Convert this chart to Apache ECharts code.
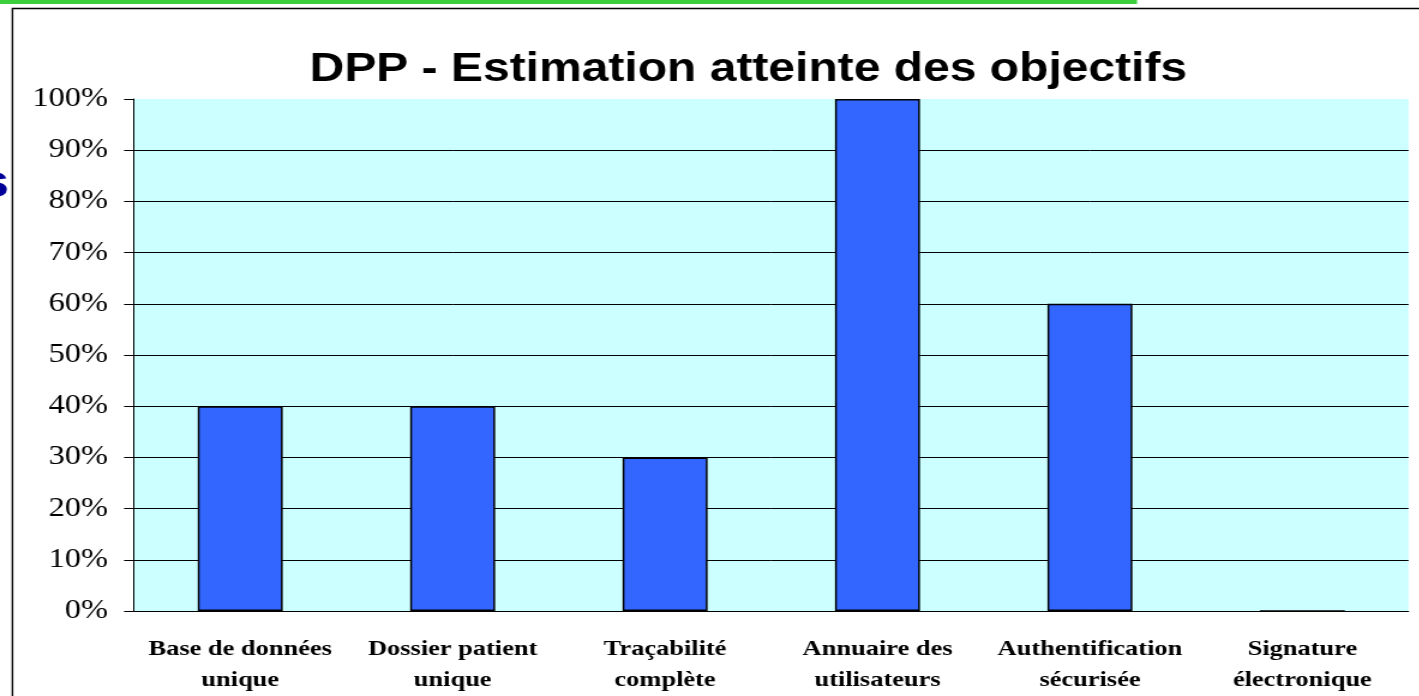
<!DOCTYPE html>
<html>
<head>
<meta charset="utf-8">
<title>DPP - Estimation atteinte des objectifs</title>
<script src="https://cdn.jsdelivr.net/npm/echarts@6/dist/echarts.min.js"></script>
<style>
  html, body { margin: 0; padding: 0; background: #fff; overflow: hidden; }
  /* le graphique d'origine est étiré horizontalement (~1.2) */
  #chart { width: 1182.5px; height: 696px; transform: scaleX(1.2); transform-origin: 0 0; }
</style>
</head>
<body>
<div id="chart"></div>
<script>
// objectifs du DPP
var categories = [
  'Base de données\nunique',
  'Dossier patient\nunique',
  'Traçabilité\ncomplète',
  'Annuaire des\nutilisateurs',
  'Authentification\nsécurisée',
  'Signature\nélectronique'
];
// taux d'atteinte estimé (%)
var atteinte = [40, 40, 30, 100, 60, 0];
var yMin = 0, yMax = 100, yStep = 10;

var serif = "'Times New Roman', 'Liberation Serif', serif";
var sans = "Arial, 'Liberation Sans', sans-serif";
var chart = echarts.init(document.getElementById('chart'));

chart.setOption({
  animation: false,
  backgroundColor: '#ffffff',
  title: {
    text: 'DPP - Estimation atteinte des objectifs',
    left: 253,
    top: 45,
    textStyle: {
      fontFamily: sans,
      fontSize: 40,
      fontWeight: 'bold',
      color: '#000'
    }
  },
  graphic: [
    //bandeau vert en haut
    { type: 'rect', shape: { x: 0, y: 0, width: 947.5, height: 4 }, style: { fill: '#3CCF3C' }, silent: true },
    //cadre
    { type: 'rect', shape: { x: 10.4, y: 8.5, width: 1200, height: 700 }, style: { fill: null, stroke: '#000', lineWidth: 1.4 }, silent: true },
    //reste d'un texte coupé à gauche
    { type: 'text', x: 7.5, y: 184, style: { text: 's', font: 'bold 46px ' + sans, fill: '#000099', align: 'right', verticalAlign: 'middle' }, silent: true }
  ],
  grid: {
    left: 111.7,
    right: 9.2,
    top: 99,
    bottom: 85,
    show: true,
    backgroundColor: '#CCFFFF',
    borderWidth: 0
  },
  xAxis: {
    type: 'category',
    data: categories,
    axisLine: { lineStyle: { color: '#000', width: 1 } },
    axisTick: { length: 7, lineStyle: { color: '#000' } },
    axisLabel: {
      interval: 0,
      margin: 23,
      color: '#000',
      fontFamily: serif,
      fontWeight: 'bold',
      fontSize: 22,
      lineHeight: 31
    }
  },
  yAxis: {
    type: 'value',
    min: yMin,
    max: yMax,
    interval: yStep,
    axisLine: { show: true, lineStyle: { color: '#000', width: 1 } },
    axisTick: { show: true, length: 8.3, lineStyle: { color: '#000' } },
    splitLine: { show: true, showMaxLine: false, lineStyle: { color: '#000', width: 1 } },
    axisLabel: {
      margin: 21.7,
      formatter: '{value}%',
      color: '#000',
      fontFamily: serif,
      fontSize: 27
    }
  },
  series: [{
    type: 'bar',
    data: atteinte,
    barCategoryGap: '60%',
    itemStyle: {
      color: '#3366FF',
      borderColor: '#000',
      borderWidth: 1.5
    }
  }]
});
</script>
</body>
</html>
